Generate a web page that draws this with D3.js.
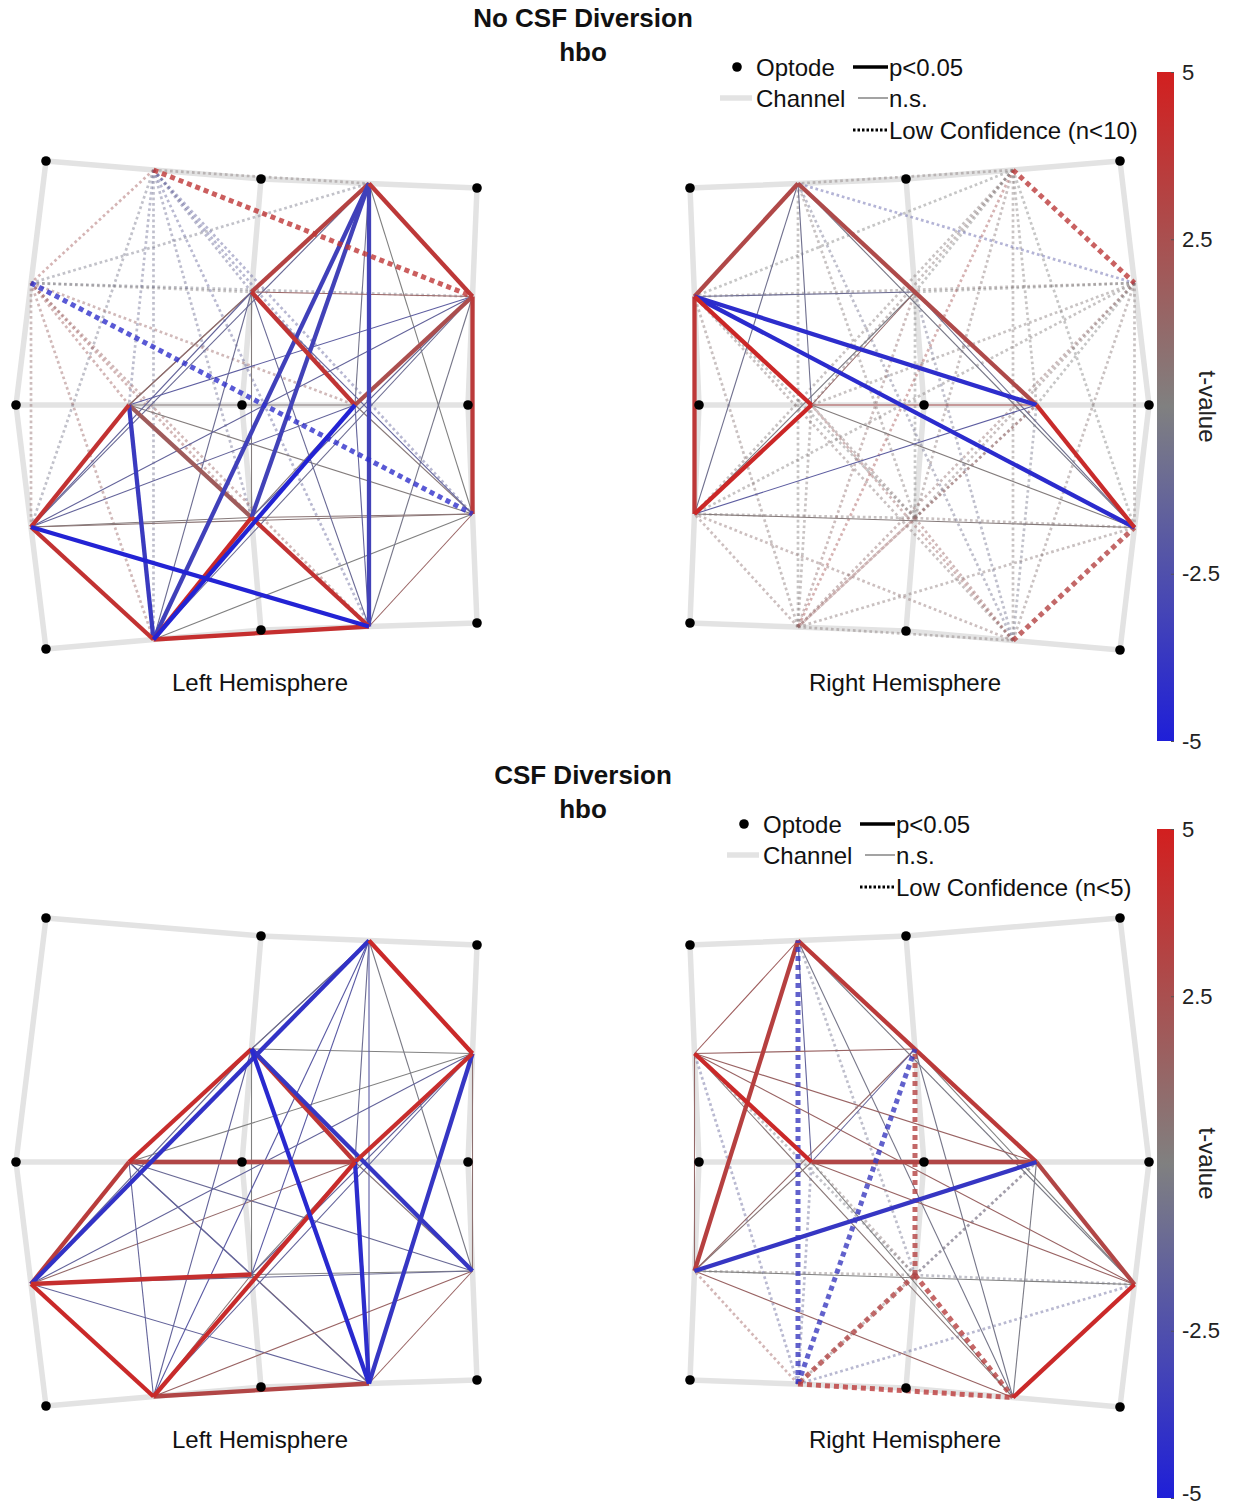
<!DOCTYPE html>
<html><head><meta charset="utf-8">
<script src="https://cdn.jsdelivr.net/npm/d3@7"></script>
<style>body{margin:0;background:#fff}</style>
</head><body>
<svg id="chart" width="1233" height="1508"></svg>
<script>
// ---------------- DATA ----------------
const PANEL_TITLES = ["No CSF Diversion", "CSF Diversion"];
const PANEL_SIGNALS = ["hbo", "hbo"];
const LOWCONF_LABELS = ["Low Confidence (n<10)", "Low Confidence (n<5)"];
const HEMI_LABELS = ["Left Hemisphere", "Right Hemisphere"];
const CBAR_DOMAIN = [-5, 5];
const CBAR_TICKS = [5, 2.5, -2.5, -5];
const CBAR_TITLE = "t-value";

// channel = pair of optodes (3x3 grid, row-major); node names in screen order
const NODE_NAMES = ["A","B","C","D","E","F","G","H","I","J","K","L"];
const CHANNEL_PAIRS = [[0,1],[1,2],[0,3],[1,4],[2,5],[3,4],[4,5],[3,6],[4,7],[5,8],[6,7],[7,8]];
// montage coordinates (arbitrary units)
const LEFT_OPTODES  = [[3.0,0.0],[24.5,1.8],[46.1,2.7],[0.0,24.4],[22.6,24.4],[45.2,24.4],[3.0,48.8],[24.5,46.9],[46.1,46.2]];
const RIGHT_OPTODES = [[0.0,2.7],[21.6,1.8],[43.0,0.0],[0.9,24.4],[23.4,24.4],[45.9,24.4],[0.0,46.2],[21.6,47.0],[43.0,48.9]];

// low-confidence channels per hemisphere
const NOCSF_LEFT_LOW = ["A","C"];
const NOCSF_RIGHT_LOW = ["B","E","I","K","L"];
const CSF_LEFT_LOW = [];
const CSF_RIGHT_LOW = ["I","K"];

// connections: [channel1, channel2, t-value, significant(1/0)]
const NOCSF_LEFT = [
 ["A","B",0.3,0],["A","C",2.0,0],["A","D",-1.2,0],["A","E",3.8,1],["A","F",-1.0,0],["A","G",-1.5,0],["A","H",-0.5,0],["A","I",-1.0,0],["A","J",-1.6,0],["A","K",-0.8,0],["A","L",-1.5,0],
 ["C","B",-0.4,0],["C","D",0.2,0],["C","E",-0.3,0],["C","F",1.8,0],["C","G",1.5,0],["C","H",1.0,0],["C","I",1.8,0],["C","J",-4.2,1],["C","K",1.5,0],["C","L",1.6,0],
 ["B","D",3.2,1],["B","E",3.7,1],["B","F",0.6,0],["B","G",-0.6,0],["B","H",-1.2,0],["B","I",-3.2,1],["B","J",0.0,0],["B","K",-3.3,1],["B","L",-3.2,1],
 ["D","E",1.5,0],["D","F",1.0,0],["D","G",3.9,1],["D","H",-1.5,0],["D","I",0.2,0],["D","J",-1.5,0],["D","K",-1.0,0],["D","L",-1.2,0],
 ["E","F",-1.8,0],["E","G",2.6,1],["E","H",-1.5,0],["E","I",-1.2,0],["E","J",3.6,1],["E","K",-1.0,0],["E","L",-0.5,0],
 ["F","G",0.3,0],["F","H",4.0,1],["F","I",1.9,1],["F","J",0.2,0],["F","K",-3.6,1],["F","L",-1.0,0],
 ["G","H",-1.5,0],["G","I",0.4,0],["G","J",0.4,0],["G","K",-4.8,1],["G","L",-1.5,0],
 ["H","I",0.3,0],["H","J",0.6,0],["H","K",4.0,1],["H","L",-4.8,1],
 ["I","J",0.6,0],["I","K",4.5,1],["I","L",4.0,1],
 ["J","K",0.0,0],["J","L",1.5,0],
 ["K","L",4.2,1]
];
const NOCSF_RIGHT = [
 ["A","C",2.9,1],["A","D",0.3,0],["A","F",-0.8,0],["A","G",2.8,1],["A","H",-0.8,0],["A","J",-0.4,0],
 ["C","D",-1.0,0],["C","F",4.6,1],["C","G",-4.3,1],["C","H",3.7,1],["C","J",-4.4,1],
 ["D","F",1.2,0],["D","G",-0.3,0],["D","H",-0.2,0],["D","J",-0.8,0],
 ["F","G",2.5,0],["F","H",4.6,1],["F","J",0.2,0],
 ["G","H",-1.8,0],["G","J",4.4,1],
 ["H","J",0.3,0],
 ["B","A",0.3,0],["B","C",0.0,0],["B","D",0.0,0],["B","E",3.6,1],["B","F",0.5,0],["B","G",0.2,0],["B","H",0.3,0],["B","I",0.5,0],["B","J",0.0,0],["B","K",2.2,0],["B","L",0.3,0],
 ["E","A",-2.0,0],["E","C",0.3,0],["E","D",0.0,0],["E","F",0.3,0],["E","G",0.0,0],["E","H",0.2,0],["E","I",0.5,0],["E","J",0.3,0],["E","K",1.0,0],["E","L",0.5,0],
 ["I","A",0.3,0],["I","C",0.0,0],["I","D",0.0,0],["I","F",0.5,0],["I","G",0.5,0],["I","H",0.3,0],["I","J",0.5,0],["I","K",1.5,0],["I","L",1.5,0],
 ["K","A",0.2,0],["K","C",0.5,0],["K","D",1.0,0],["K","F",0.3,0],["K","G",1.5,0],["K","H",0.8,0],["K","J",0.5,0],["K","L",0.3,0],
 ["L","A",-0.8,0],["L","C",0.5,0],["L","D",-0.8,0],["L","F",1.5,0],["L","G",-0.5,0],["L","H",0.8,0],["L","J",3.2,1]
];
const CSF_LEFT = [
 ["B","D",-1.0,0],["B","E",4.5,1],["B","F",0.2,0],["B","G",-1.0,0],["B","H",-4.0,1],["B","I",-2.0,0],["B","J",-0.3,0],["B","K",-2.0,0],["B","L",-2.0,0],
 ["D","E",0.0,0],["D","F",4.3,1],["D","G",3.8,1],["D","H",-1.2,0],["D","I",0.0,0],["D","J",-3.8,1],["D","K",-1.5,0],["D","L",-4.5,1],
 ["E","F",0.0,0],["E","G",4.3,1],["E","H",-1.5,0],["E","I",-1.5,0],["E","J",0.8,0],["E","K",-1.5,0],["E","L",-3.8,1],
 ["F","G",3.0,1],["F","H",3.5,1],["F","I",-1.5,0],["F","J",-1.2,0],["F","K",-1.5,0],["F","L",-1.2,0],
 ["G","H",1.2,0],["G","I",0.0,0],["G","J",0.5,0],["G","K",4.4,1],["G","L",-4.3,1],
 ["H","I",4.2,1],["H","J",-1.0,0],["H","K",4.5,1],["H","L",-1.5,0],
 ["I","J",0.0,0],["I","K",0.5,0],["I","L",0.8,0],
 ["J","K",1.5,0],["J","L",1.5,0],
 ["K","L",3.0,1]
];
const CSF_RIGHT = [
 ["A","C",1.8,0],["A","D",2.0,0],["A","F",-1.5,0],["A","G",3.6,1],["A","H",3.3,1],["A","J",-0.3,0],["A","L",-0.5,0],
 ["C","D",1.5,0],["C","F",4.5,1],["C","G",1.5,0],["C","H",1.2,0],["C","J",1.5,0],["C","L",0.5,0],
 ["D","F",-1.5,0],["D","G",0.5,0],["D","H",1.2,0],["D","J",0.0,0],["D","L",-0.5,0],
 ["F","G",3.0,1],["F","H",0.5,0],["F","J",1.5,0],["F","L",0.0,0],
 ["G","H",-3.8,1],["G","J",3.0,1],["G","L",-0.3,0],
 ["H","J",0.0,0],["H","L",1.5,0],
 ["J","L",4.5,1],
 ["I","A",-0.8,0],["I","C",-0.3,0],["I","D",3.2,1],["I","F",0.5,0],["I","G",-0.8,0],["I","H",0.3,0],["I","J",-0.5,0],["I","K",3.0,1],["I","L",3.3,1],
 ["K","A",-3.6,1],["K","C",-1.5,0],["K","D",-3.6,1],["K","F",-1.2,0],["K","G",0.5,0],["K","H",1.8,0],["K","J",-1.5,0],["K","L",3.6,1]
];

// ---------------- DRAWING ----------------
const FONT = "'Liberation Sans', Arial, Helvetica, sans-serif";
const svg = d3.select("#chart");
svg.append("rect").attr("width",1233).attr("height",1508).attr("fill","#fff");
const color = d3.scaleLinear().domain([-5,0,5]).range(["#1f1fd8","#808080","#d21f1f"]).clamp(true);

// gradient for colorbar
const grad = svg.append("defs").append("linearGradient").attr("id","cbgrad")
  .attr("x1",0).attr("y1",1).attr("x2",0).attr("y2",0);
d3.range(0,1.0001,0.1).forEach(o => {
  grad.append("stop").attr("offset",o).attr("stop-color",color(CBAR_DOMAIN[0]+o*(CBAR_DOMAIN[1]-CBAR_DOMAIN[0])));
});

const panels = [
  {dy:0,   ldx:0, left:NOCSF_LEFT, leftLow:NOCSF_LEFT_LOW, right:NOCSF_RIGHT, rightLow:NOCSF_RIGHT_LOW},
  {dy:757, ldx:7, left:CSF_LEFT,   leftLow:CSF_LEFT_LOW,   right:CSF_RIGHT,   rightLow:CSF_RIGHT_LOW}
];

function drawHemisphere(g, optodes, xs, ys, edges, lowConf, label, labelX, labelY) {
  const pos = optodes.map(([u,v]) => [xs(u), ys(v)]);
  g.append("g").selectAll("line").data(CHANNEL_PAIRS).join("line")
    .attr("x1", d => pos[d[0]][0]).attr("y1", d => pos[d[0]][1])
    .attr("x2", d => pos[d[1]][0]).attr("y2", d => pos[d[1]][1])
    .attr("stroke","#e3e3e3").attr("stroke-width",5.5).attr("stroke-linecap","round");
  const nodes = {};
  CHANNEL_PAIRS.forEach((p,i) => {
    nodes[NODE_NAMES[i]] = [(pos[p[0]][0]+pos[p[1]][0])/2, (pos[p[0]][1]+pos[p[1]][1])/2];
  });
  const rows = edges.map(([a,b,t,s]) => ({a,b,t,sig:!!s,low: lowConf.includes(a)||lowConf.includes(b)}));
  const rank = d => d.sig ? 2 : (d.low ? 0 : 1);
  rows.sort((p,q) => (rank(p)-rank(q)) || (Math.abs(p.t)-Math.abs(q.t)));
  g.append("g").selectAll("line").data(rows).join("line")
    .attr("x1", d => nodes[d.a][0]).attr("y1", d => nodes[d.a][1])
    .attr("x2", d => nodes[d.b][0]).attr("y2", d => nodes[d.b][1])
    .attr("stroke", d => color(d.t))
    .attr("stroke-width", d => d.sig ? (d.low ? 5 : 4.3) : (d.low ? 2.7 : 1.1))
    .attr("stroke-dasharray", d => d.low ? (d.sig ? "5,4" : "2.7,2.8") : null)
    .attr("stroke-opacity", d => d.low ? (d.sig ? 0.8 : 0.45) : 1);
  g.append("g").selectAll("circle").data(pos).join("circle")
    .attr("cx", d => d[0]).attr("cy", d => d[1]).attr("r",4.8).attr("fill","#000");
  g.append("text").attr("x",labelX).attr("y",labelY).attr("text-anchor","middle")
    .attr("font-family",FONT).attr("font-size",24).attr("fill","#111").text(label);
}

panels.forEach((p, pi) => {
  const g = svg.append("g");
  const ys = d3.scaleLinear().domain([0,10]).range([161+p.dy, 261+p.dy]);
  const xl = d3.scaleLinear().domain([0,10]).range([16, 116]);
  const xr = d3.scaleLinear().domain([0,10]).range([690, 790]);
  // titles
  g.append("text").attr("x",583).attr("y",27+p.dy).attr("text-anchor","middle")
    .attr("font-family",FONT).attr("font-weight","bold").attr("font-size",26).attr("fill","#111").text(PANEL_TITLES[pi]);
  g.append("text").attr("x",583).attr("y",61+p.dy).attr("text-anchor","middle")
    .attr("font-family",FONT).attr("font-weight","bold").attr("font-size",26).attr("fill","#111").text(PANEL_SIGNALS[pi]);

  drawHemisphere(g.append("g"), LEFT_OPTODES, xl, ys, p.left, p.leftLow, HEMI_LABELS[0], 260, 691+p.dy);
  drawHemisphere(g.append("g"), RIGHT_OPTODES, xr, ys, p.right, p.rightLow, HEMI_LABELS[1], 905, 691+p.dy);

  // legend
  const lg = g.append("g").attr("transform",`translate(${p.ldx},${p.dy})`);
  const txt = (x,y,s) => lg.append("text").attr("x",x).attr("y",y).attr("font-family",FONT)
      .attr("font-size",24).attr("fill","#111").text(s);
  lg.append("circle").attr("cx",737).attr("cy",67).attr("r",4.8).attr("fill","#000");
  txt(756,76,"Optode");
  lg.append("line").attr("x1",853).attr("x2",888).attr("y1",67).attr("y2",67).attr("stroke","#000").attr("stroke-width",3.5);
  txt(889,76,"p<0.05");
  lg.append("line").attr("x1",720).attr("x2",752).attr("y1",98).attr("y2",98).attr("stroke","#e3e3e3").attr("stroke-width",5.5);
  txt(756,107,"Channel");
  lg.append("line").attr("x1",858).attr("x2",888).attr("y1",98).attr("y2",98).attr("stroke","#666").attr("stroke-width",1.2);
  txt(889,107,"n.s.");
  lg.append("line").attr("x1",853).attr("x2",888).attr("y1",130).attr("y2",130).attr("stroke","#000").attr("stroke-width",3).attr("stroke-dasharray","2.5,2");
  txt(889,139,LOWCONF_LABELS[pi]);

  // colorbar
  const cy = d3.scaleLinear().domain(CBAR_DOMAIN).range([741+p.dy, 72+p.dy]);
  g.append("rect").attr("x",1157).attr("y",cy(5)).attr("width",17).attr("height",cy(-5)-cy(5)).attr("fill","url(#cbgrad)");
  const ax = g.append("g").attr("transform","translate(1174,0)")
    .call(d3.axisRight(cy).tickValues(CBAR_TICKS).tickSize(3).tickPadding(6).tickFormat(d => String(d)));
  ax.select(".domain").remove();
  ax.selectAll(".tick line").attr("stroke","#555").attr("x1",-3).attr("x2",0);
  ax.selectAll(".tick text").attr("font-family",FONT).attr("font-size",22).attr("fill","#222").attr("x",8);
  if (p.dy > 0) ax.selectAll(".tick text").filter(d => d === -5).attr("dy","0.1em");
  g.append("text").attr("transform",`translate(1199,${cy(0)}) rotate(90)`).attr("text-anchor","middle")
    .attr("font-family",FONT).attr("font-size",24).attr("fill","#222").text(CBAR_TITLE);
});
</script>
</body></html>
